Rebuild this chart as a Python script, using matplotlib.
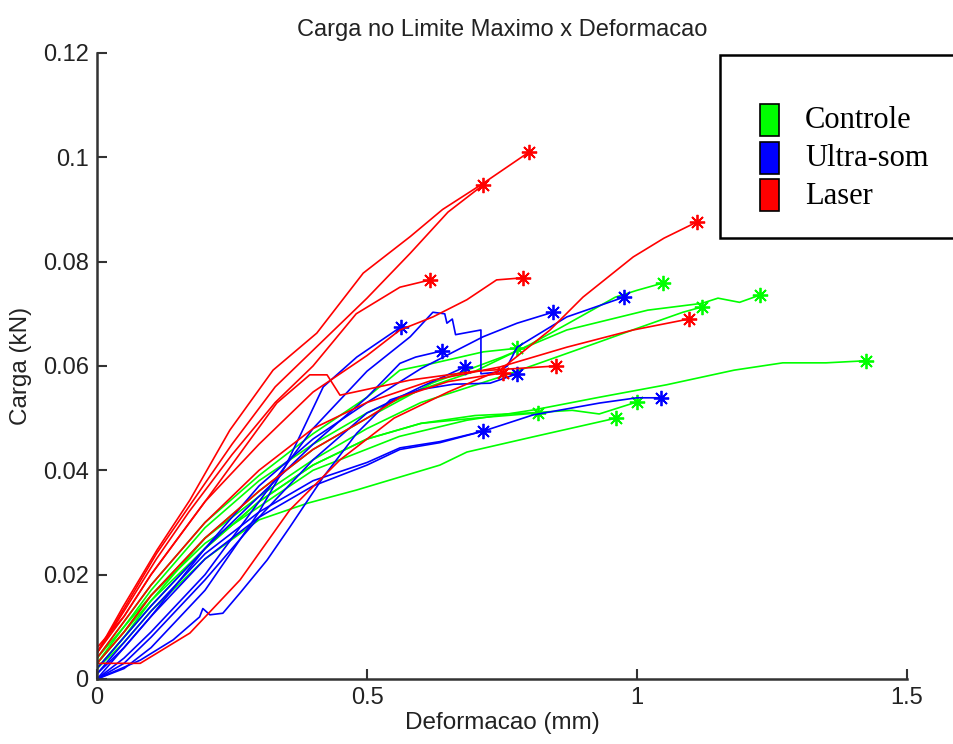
import matplotlib
matplotlib.use("Agg")
import matplotlib.pyplot as plt
from matplotlib.patches import Rectangle

# Controle (green) curves: (deformacao mm, carga kN)
controle = [
    [(0, 0.003), (0.05, 0.010), (0.10, 0.017), (0.20, 0.029), (0.30, 0.038), (0.40, 0.045), (0.50, 0.051),
     (0.60, 0.0555), (0.70, 0.059), (0.80, 0.064), (0.87, 0.068), (0.96, 0.0732), (1.0, 0.0745), (1.048, 0.0759)],
    [(0, 0.002), (0.05, 0.008), (0.10, 0.015), (0.20, 0.027), (0.30, 0.036), (0.40, 0.044), (0.50, 0.050),
     (0.62, 0.0567), (0.75, 0.0617), (0.87, 0.0669), (1.02, 0.0707), (1.12, 0.072), (1.15, 0.073),
     (1.19, 0.0722), (1.228, 0.0736)],
    [(0, 0.004), (0.05, 0.010), (0.10, 0.016), (0.20, 0.027), (0.30, 0.035), (0.40, 0.042), (0.50, 0.048),
     (0.60, 0.053), (0.75, 0.058), (0.93, 0.0646), (1.0, 0.0672), (1.085, 0.0703), (1.12, 0.0713)],
    [(0, 0.003), (0.05, 0.009), (0.10, 0.016), (0.20, 0.026), (0.30, 0.033), (0.40, 0.040), (0.56, 0.0465),
     (0.685, 0.0496), (0.81, 0.0516), (0.93, 0.0540), (1.055, 0.0564), (1.18, 0.0592), (1.27, 0.0606),
     (1.35, 0.0606), (1.424, 0.061)],
    [(0, 0.002), (0.05, 0.007), (0.10, 0.013), (0.20, 0.023), (0.30, 0.0305), (0.39, 0.0337), (0.48, 0.0362),
     (0.635, 0.041), (0.685, 0.0435), (0.807, 0.0464), (0.961, 0.050)],
    [(0, 0.003), (0.05, 0.009), (0.10, 0.015), (0.20, 0.025), (0.30, 0.034), (0.40, 0.041), (0.50, 0.046),
     (0.60, 0.049), (0.70, 0.0505), (0.80, 0.051), (0.88, 0.0515), (0.93, 0.0508), (1.0, 0.0531)],
    [(0, 0.002), (0.05, 0.008), (0.10, 0.014), (0.20, 0.025), (0.30, 0.034), (0.40, 0.041), (0.50, 0.046),
     (0.60, 0.049), (0.70, 0.050), (0.817, 0.051)],
    [(0, 0.004), (0.05, 0.011), (0.10, 0.018), (0.20, 0.030), (0.30, 0.039), (0.40, 0.047), (0.50, 0.054),
     (0.561, 0.0592), (0.622, 0.0605), (0.715, 0.0627), (0.778, 0.0634)],
]

# Ultra-som (blue) curves
ultrasom = [
    [(0, 0.0), (0.05, 0.004), (0.10, 0.009), (0.20, 0.020), (0.30, 0.034), (0.40, 0.048), (0.50, 0.059),
     (0.58, 0.0656), (0.622, 0.0703), (0.644, 0.0700), (0.648, 0.0682), (0.658, 0.069), (0.664, 0.066),
     (0.69, 0.0665), (0.711, 0.0669), (0.711, 0.0585), (0.74, 0.0588), (0.76, 0.060), (0.778, 0.0636),
     (0.87, 0.0694), (0.976, 0.0732)],
    [(0, 0.001), (0.05, 0.006), (0.10, 0.012), (0.20, 0.025), (0.30, 0.037), (0.40, 0.046), (0.50, 0.053),
     (0.60, 0.0595), (0.715, 0.0656), (0.778, 0.0682), (0.844, 0.0703)],
    [(0, 0.0), (0.05, 0.002), (0.10, 0.006), (0.20, 0.017), (0.30, 0.032), (0.35, 0.041), (0.419, 0.056),
     (0.481, 0.0617), (0.563, 0.0675)],
    [(0, 0.002), (0.05, 0.008), (0.10, 0.014), (0.20, 0.025), (0.30, 0.035), (0.40, 0.045), (0.50, 0.054),
     (0.561, 0.0605), (0.59, 0.0617), (0.639, 0.0629)],
    [(0, 0.0), (0.05, 0.003), (0.10, 0.008), (0.20, 0.019), (0.30, 0.031), (0.40, 0.042), (0.50, 0.051),
     (0.60, 0.056), (0.681, 0.0598)],
    [(0, 0.0), (0.08, 0.0036), (0.141, 0.0075), (0.19, 0.0119), (0.196, 0.0135), (0.209, 0.0123),
     (0.233, 0.0126), (0.265, 0.0165), (0.315, 0.0228), (0.357, 0.0291), (0.419, 0.0387), (0.481, 0.0471),
     (0.543, 0.0535), (0.60, 0.0555), (0.66, 0.0565), (0.728, 0.0567), (0.778, 0.0585)],
    [(0, 0.001), (0.05, 0.007), (0.10, 0.013), (0.20, 0.024), (0.30, 0.032), (0.40, 0.038), (0.50, 0.0415),
     (0.561, 0.0443), (0.635, 0.0455), (0.715, 0.0475), (0.807, 0.0506), (0.931, 0.0529), (1.0, 0.0539),
     (1.044, 0.0539)],
    [(0, 0.0), (0.05, 0.006), (0.10, 0.012), (0.20, 0.023), (0.30, 0.031), (0.40, 0.037), (0.50, 0.041),
     (0.561, 0.0440), (0.635, 0.0453), (0.715, 0.0475)],
]

# Laser (red) curves
laser = [
    [(0, 0.005), (0.048, 0.0138), (0.111, 0.0247), (0.172, 0.0343), (0.246, 0.0477), (0.326, 0.0592),
     (0.407, 0.0663), (0.493, 0.0778), (0.58, 0.0848), (0.64, 0.090), (0.715, 0.0950), (0.80, 0.101)],
    [(0, 0.005), (0.05, 0.0135), (0.11, 0.024), (0.17, 0.033), (0.25, 0.045), (0.33, 0.056), (0.42, 0.065),
     (0.50, 0.073), (0.58, 0.0816), (0.65, 0.0895), (0.715, 0.0947)],
    [(0, 0.003), (0.08, 0.003), (0.172, 0.0088), (0.265, 0.019), (0.357, 0.0324), (0.45, 0.042),
     (0.55, 0.050), (0.65, 0.055), (0.746, 0.0592), (0.839, 0.0669), (0.90, 0.0732), (0.993, 0.0809),
     (1.05, 0.0845), (1.111, 0.0876)],
    [(0, 0.005), (0.05, 0.013), (0.11, 0.023), (0.17, 0.032), (0.25, 0.043), (0.33, 0.053), (0.40, 0.060),
     (0.48, 0.070), (0.561, 0.0751), (0.617, 0.0765)],
    [(0, 0.006), (0.05, 0.012), (0.10, 0.020), (0.20, 0.034), (0.30, 0.045), (0.40, 0.055), (0.50, 0.062),
     (0.561, 0.0669), (0.622, 0.0694), (0.685, 0.0727), (0.74, 0.0765), (0.789, 0.0769)],
    [(0, 0.004), (0.05, 0.011), (0.10, 0.018), (0.20, 0.030), (0.30, 0.040), (0.40, 0.048), (0.50, 0.053),
     (0.622, 0.0573), (0.746, 0.0598), (0.87, 0.0636), (0.993, 0.0669), (1.096, 0.069)],
    [(0, 0.005), (0.05, 0.012), (0.10, 0.020), (0.20, 0.034), (0.333, 0.0529), (0.394, 0.0583),
     (0.426, 0.0583), (0.45, 0.0544), (0.58, 0.0573), (0.70, 0.059), (0.85, 0.060)],
    [(0, 0.003), (0.05, 0.009), (0.10, 0.016), (0.20, 0.027), (0.30, 0.036), (0.40, 0.044), (0.50, 0.050),
     (0.561, 0.054), (0.65, 0.057), (0.752, 0.0587)],
]

groups = [("Controle", controle, "#00ff00"), ("Ultra-som", ultrasom, "#0000ff"), ("Laser", laser, "#ff0000")]

fig = plt.figure(figsize=(9.54, 7.44), dpi=100)
ax = fig.add_axes([0.1017, 0.0874, 0.849, 0.8414])

for name, curves, color in groups:
    for curve in curves:
        xs = [p[0] for p in curve]
        ys = [p[1] for p in curve]
        ax.plot(xs, ys, color=color, lw=1.2)
        ax.plot(xs[-1], ys[-1], marker=(8, 2, 0), color=color, ms=11, mew=1.3)

ax.set_xlim(0, 1.5)
ax.set_ylim(0, 0.12)
ax.set_xticks([0, 0.5, 1, 1.5])
ax.set_xticklabels(["0", "0.5", "1", "1.5"])
ax.set_yticks([0, 0.02, 0.04, 0.06, 0.08, 0.1, 0.12])
ax.set_yticklabels(["0", "0.02", "0.04", "0.06", "0.08", "0.1", "0.12"])
for s in ["top", "right"]:
    ax.spines[s].set_visible(False)
for s in ["left", "bottom"]:
    ax.spines[s].set_color("#333333")
    ax.spines[s].set_linewidth(1.8)
ax.tick_params(direction="in", length=7, width=1.5, color="#333333", labelsize=17,
               labelcolor="#222222", pad=6)
for lab in ax.get_xticklabels() + ax.get_yticklabels():
    lab.set_family("Liberation Sans")

ax.set_title("Carga no Limite Maximo x Deformacao", fontsize=17, family="Liberation Sans",
             color="#222222", pad=12)
ax.set_xlabel("Deformacao (mm)", fontsize=17.5, family="Liberation Sans", color="#222222", labelpad=2)
ax.set_ylabel("Carga (kN)", fontsize=17.5, family="Liberation Sans", color="#222222", labelpad=8)

# legend box (partly outside the figure, as in the original)
fig.patches.append(Rectangle((720 / 954, 1 - 238 / 744), 260 / 954, 183 / 744,
                             transform=fig.transFigure, fill=True, facecolor="white",
                             edgecolor="black", lw=1.8, zorder=5))
for i, (name, curves, color) in enumerate(groups):
    top = 104 + i * 37.5
    fig.patches.append(Rectangle((760 / 954, 1 - (top + 32) / 744), 19 / 954, 32 / 744,
                                 transform=fig.transFigure, facecolor=color,
                                 edgecolor="black", lw=1.2, zorder=6))
    fig.text(805 / 954, 1 - (top + 17) / 744, name, fontsize=22, family="Liberation Serif",
             va="center", ha="left", zorder=7)

fig.savefig("out.png", dpi=100)
